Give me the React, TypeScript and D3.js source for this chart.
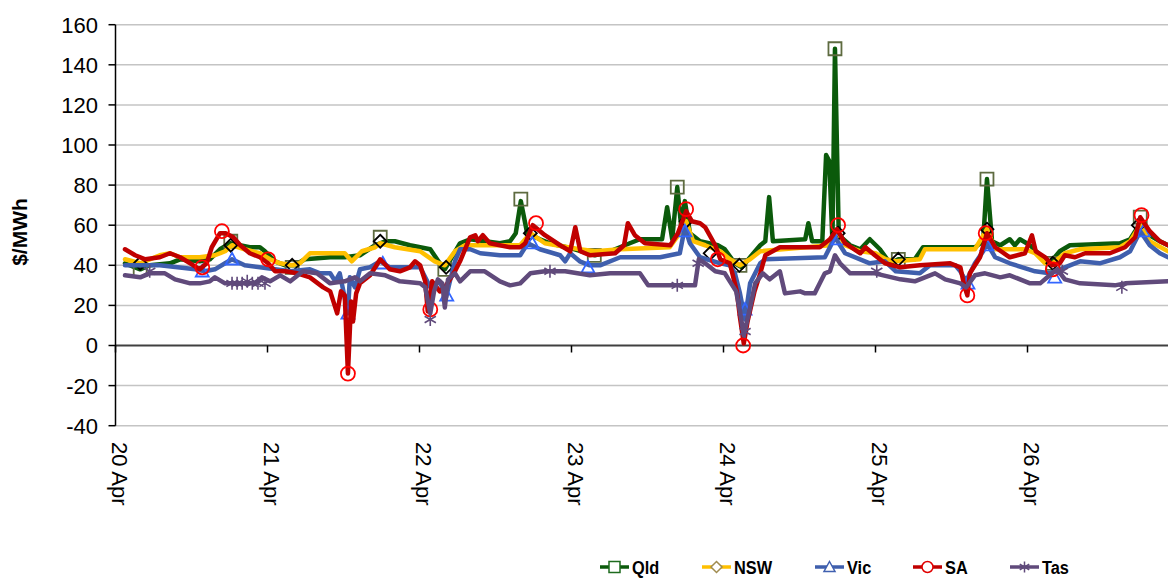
import React from 'react';
import * as d3 from 'd3';

type Pt = [number, number];

// hours since 20 Apr 00:00, $/MWh
const qld: Pt[] = [
  [1.5, 41], [3.9, 38], [5.4, 40], [8.6, 41], [10.2, 43], [13.3, 42], [14.9, 43], [16.5, 48], [18.1, 51],
  [21.2, 49], [22.8, 49], [23.6, 47], [25.2, 42], [26.8, 40], [28.3, 40], [29.9, 43], [33.9, 44], [36.2, 44],
  [38.6, 45], [41.0, 50], [42.6, 52], [44.1, 52], [46.5, 50], [49.7, 48], [51.2, 41], [52.0, 38], [54.4, 51],
  [56.0, 53], [60.7, 51], [62.3, 52], [63.2, 56], [64.0, 72], [65.0, 56], [67.0, 53], [68.6, 51], [72.5, 48],
  [75.7, 45], [78.1, 47], [81.2, 51], [82.8, 53], [86.3, 53], [87.1, 69], [87.9, 53], [88.7, 79], [89.3, 60],
  [89.9, 72], [90.7, 56], [92.3, 52], [95.1, 50], [96.2, 48], [97.8, 41], [98.9, 39], [100.2, 44], [101.8, 50],
  [102.6, 52], [103.2, 74], [103.8, 52], [108.9, 53], [109.4, 61], [110.0, 52], [111.6, 52], [112.2, 95],
  [112.7, 92], [113.2, 52], [113.6, 148], [114.2, 55], [116.0, 50], [117.6, 48], [119.1, 53], [120.7, 48],
  [122.3, 41], [123.6, 43], [126.2, 43], [127.5, 49], [135.7, 49], [137.0, 52], [137.6, 83], [138.4, 52],
  [139.7, 50], [141.2, 53], [142.0, 50], [142.8, 53], [144.4, 50], [146.0, 45], [147.5, 41], [149.1, 47],
  [150.7, 50], [158.6, 51], [160.2, 53], [161.8, 61], [163.3, 55], [164.9, 52], [166.2, 50],
];

const nsw: Pt[] = [
  [1.5, 43], [3.9, 41], [7.0, 45], [8.6, 46], [10.2, 44], [13.3, 44], [15.7, 45], [17.3, 47], [18.4, 50],
  [20.4, 48], [22.8, 46], [24.4, 43], [26.0, 41], [27.9, 40], [29.1, 41], [30.7, 46], [33.9, 46], [36.2, 46],
  [37.3, 42], [38.9, 47], [41.0, 49], [41.8, 51], [44.1, 49], [48.1, 47], [50.4, 42], [52.0, 40], [53.6, 47],
  [55.2, 50], [63.9, 50], [65.5, 56], [67.8, 51], [73.3, 48], [75.7, 47], [79.7, 48], [87.5, 49], [89.1, 56],
  [90.1, 62], [91.2, 52], [93.1, 50], [95.5, 47], [97.0, 43], [98.6, 40], [100.2, 43], [101.8, 47], [112.8, 50],
  [114.0, 57], [115.2, 50], [117.6, 47], [120.0, 46], [121.6, 43], [123.2, 42], [127.0, 43], [127.8, 48],
  [135.7, 48], [137.6, 58], [138.9, 48], [143.6, 48], [145.2, 46], [146.8, 41], [148.0, 41], [149.9, 46],
  [152.3, 48], [158.6, 49], [160.2, 52], [161.8, 60], [163.3, 52], [166.2, 47],
];

const vic: Pt[] = [
  [1.5, 40], [7.0, 40], [12.6, 38], [14.1, 37], [15.7, 38], [17.3, 41], [18.4, 43], [20.4, 40], [25.2, 38],
  [27.6, 37], [30.7, 38], [32.3, 36], [33.9, 36], [34.7, 32], [35.4, 36], [36.7, 16], [37.0, 34], [37.8, 29],
  [38.6, 38], [40.2, 39], [41.8, 42], [43.3, 39], [48.1, 39], [48.9, 34], [49.7, 29], [51.2, 32], [52.2, 24],
  [52.8, 32], [53.6, 42], [54.4, 48], [56.0, 48], [57.6, 46], [60.7, 45], [63.9, 45], [65.1, 51], [67.0, 48],
  [70.2, 45], [71.0, 42], [71.8, 46], [73.3, 42], [74.9, 40], [76.5, 40], [79.7, 44], [86.0, 44], [89.1, 46],
  [89.9, 59], [90.7, 51], [92.3, 44], [95.5, 41], [97.0, 40], [97.8, 36], [98.6, 26], [99.4, 13], [100.2, 31],
  [101.8, 41], [102.6, 43], [112.0, 44], [113.6, 54], [115.2, 46], [119.1, 41], [121.5, 42], [123.2, 37],
  [127.0, 36], [128.6, 40], [132.6, 40], [133.4, 37], [134.3, 32], [135.7, 41], [137.0, 47], [137.6, 51],
  [138.9, 44], [141.2, 41], [145.2, 37], [147.5, 36], [149.1, 38], [152.3, 42], [155.4, 41], [158.6, 44],
  [160.2, 47], [161.8, 57], [163.3, 50], [164.9, 46], [166.2, 44],
];

const sa: Pt[] = [
  [1.5, 48], [3.1, 45], [4.7, 43], [7.0, 44], [8.6, 46], [10.2, 44], [11.8, 41], [13.3, 38], [14.4, 41],
  [15.2, 49], [16.5, 56], [17.4, 56], [18.6, 54], [19.7, 50], [21.2, 46], [22.8, 44], [24.1, 41], [25.2, 37],
  [26.8, 37], [28.7, 36], [30.7, 34], [32.8, 29], [33.9, 27], [35.0, 16], [35.6, 27], [36.2, 25], [36.7, -14],
  [37.2, 22], [37.5, 12], [38.0, 26], [38.6, 31], [40.2, 35], [41.8, 43], [43.3, 38], [44.9, 37], [46.5, 39],
  [47.3, 42], [48.1, 40], [48.9, 32], [49.3, 17], [50.0, 32], [51.2, 27], [52.0, 29], [53.6, 37], [54.4, 42],
  [56.0, 54], [56.8, 55], [57.2, 52], [58.0, 55], [59.1, 51], [62.3, 49], [63.9, 49], [64.7, 51], [65.9, 60],
  [67.8, 55], [70.2, 50], [71.8, 47], [72.6, 59], [73.4, 47], [74.9, 45], [78.9, 46], [80.3, 50], [80.9, 61],
  [82.0, 55], [83.6, 51], [87.6, 50], [88.8, 56], [90.1, 67], [91.0, 62], [92.3, 61], [93.1, 59], [94.7, 50],
  [95.5, 43], [97.0, 41], [98.1, 27], [98.6, 14], [99.2, 1], [99.8, 12], [100.9, 27], [101.8, 36], [102.6, 45],
  [104.9, 49], [111.2, 49], [112.8, 53], [113.9, 58], [115.2, 51], [117.6, 46], [118.4, 49], [119.9, 45],
  [121.5, 41], [123.9, 39], [127.0, 40], [131.8, 41], [133.4, 39], [134.0, 30], [134.5, 25], [134.9, 36],
  [136.5, 44], [137.6, 56], [138.9, 49], [141.2, 44], [143.6, 46], [144.7, 55], [145.3, 47], [146.8, 44],
  [147.9, 40], [149.1, 41], [149.9, 45], [151.5, 44], [153.1, 46], [157.0, 46], [159.4, 49], [161.0, 54],
  [161.8, 64], [163.3, 57], [164.9, 52], [166.2, 50],
];

const tas: Pt[] = [
  [1.5, 35], [3.9, 34], [5.4, 36], [7.8, 36], [9.4, 33], [11.8, 31], [13.3, 31], [14.9, 32], [15.7, 34],
  [17.3, 31], [22.0, 31], [23.1, 34], [24.4, 32], [26.0, 35], [27.6, 32], [29.6, 37], [31.8, 36], [33.9, 31],
  [36.2, 32], [37.8, 34], [38.6, 32], [40.2, 36], [42.6, 35], [44.9, 32], [48.1, 31], [48.9, 29], [49.7, 16],
  [50.3, 27], [50.9, 33], [51.6, 31], [52.0, 19], [52.5, 33], [53.6, 36], [54.4, 32], [56.0, 37], [58.3, 37],
  [60.7, 32], [62.3, 30], [63.9, 31], [65.5, 36], [67.8, 37], [71.0, 37], [74.9, 35], [78.1, 36], [82.8, 36],
  [84.1, 30], [91.5, 30], [92.1, 43], [93.1, 41], [94.7, 37], [96.2, 36], [97.0, 32], [98.0, 27], [98.6, 17],
  [99.2, 5], [100.2, 19], [101.0, 31], [102.2, 36], [103.3, 33], [104.9, 37], [105.7, 26], [108.1, 27],
  [108.9, 26], [110.4, 26], [111.2, 31], [112.0, 36], [112.8, 37], [113.6, 45], [114.4, 41], [116.0, 36],
  [119.9, 36], [123.9, 33], [126.2, 32], [129.4, 36], [131.0, 33], [133.4, 31], [134.3, 29], [135.7, 35],
  [137.3, 36], [139.7, 34], [141.2, 35], [144.4, 31], [146.0, 31], [147.5, 35], [148.7, 38], [149.9, 33],
  [152.3, 31], [157.8, 30], [159.4, 31], [166.2, 32],
];

const qldMarkers: Pt[] = [
  [3.9, 38], [18.2, 52], [27.9, 39], [41.8, 54], [52.0, 38], [64.0, 73], [75.6, 45], [88.7, 79],
  [98.6, 40], [113.6, 148], [123.6, 43], [137.6, 83], [148.0, 41], [161.8, 64],
];
const nswMarkers: Pt[] = [
  [3.9, 41], [18.2, 50], [27.9, 40], [41.8, 52], [52.2, 39], [65.5, 56], [90.1, 62], [93.9, 46],
  [98.5, 40], [114.1, 56], [123.6, 43], [137.6, 58], [148.0, 41], [161.5, 60],
];
const vicMarkers: Pt[] = [
  [13.7, 37], [18.4, 43], [36.7, 16], [42.2, 41], [52.3, 25], [65.8, 51], [74.6, 39], [89.9, 57],
  [99.4, 18], [114.1, 53], [134.6, 31], [137.6, 50], [148.3, 34], [162.3, 57],
];
const saMarkers: Pt[] = [
  [13.7, 39], [16.8, 57], [24.1, 43], [36.7, -14], [49.7, 18], [66.4, 61], [90.1, 68], [95.1, 43],
  [99.1, 0], [114.1, 60], [134.5, 25], [137.4, 56], [148.0, 38], [162.0, 65],
];
const tasMarkers: Pt[] = [
  [5.4, 37], [18.4, 31], [19.2, 31], [20.0, 31], [20.8, 32], [21.6, 31], [22.5, 31], [23.6, 31],
  [49.7, 13], [68.6, 37], [88.7, 30], [92.0, 41], [99.4, 7], [120.2, 37], [149.5, 37], [158.9, 29],
];

const dayLabels = ['20 Apr', '21 Apr', '22 Apr', '23 Apr', '24 Apr', '25 Apr', '26 Apr'];
const yTicks = [-40, -20, 0, 20, 40, 60, 80, 100, 120, 140, 160];

type Shape = 'square' | 'diamond' | 'triangle' | 'circle' | 'star';

const series = [
  { name: 'Qld', data: qld, markers: qldMarkers, color: '#0b5a0b', mark: '#5e6b40', shape: 'square' as Shape },
  { name: 'NSW', data: nsw, markers: nswMarkers, color: '#ffc000', mark: '#000000', shape: 'diamond' as Shape },
  { name: 'Vic', data: vic, markers: vicMarkers, color: '#3f5fad', mark: '#3366ff', shape: 'triangle' as Shape },
  { name: 'SA', data: sa, markers: saMarkers, color: '#c00000', mark: '#ff0000', shape: 'circle' as Shape },
  { name: 'Tas', data: tas, markers: tasMarkers, color: '#604a7b', mark: '#604a7b', shape: 'star' as Shape },
];

const legendMark: Record<string, string> = {
  Qld: '#1e6b1e', NSW: '#a08c50', Vic: '#4060b0', SA: '#e00000', Tas: '#604a7b',
};

function markerPath(shape: Shape, cx: number, cy: number, s: number) {
  const h = s / 2;
  switch (shape) {
    case 'square':
      return `M${cx - h},${cy - h}h${s}v${s}h${-s}Z`;
    case 'diamond':
      return `M${cx},${cy - h}L${cx + h},${cy}L${cx},${cy + h}L${cx - h},${cy}Z`;
    case 'triangle':
      return `M${cx},${cy - h}L${cx + h},${cy + h * 0.8}L${cx - h},${cy + h * 0.8}Z`;
    case 'circle':
      return `M${cx - h},${cy}a${h},${h} 0 1,0 ${s},0a${h},${h} 0 1,0 ${-s},0`;
    case 'star': {
      let p = '';
      for (let i = 0; i < 3; i++) {
        const a = (Math.PI / 3) * i + Math.PI / 2;
        const dx = Math.cos(a) * h;
        const dy = Math.sin(a) * h;
        p += `M${cx - dx},${cy - dy}L${cx + dx},${cy + dy}`;
      }
      return p;
    }
  }
}

export default function App() {
  const width = 1168;
  const height = 578;
  const left = 115.5;

  const x = d3.scaleLinear().domain([0, 168]).range([left, left + 168 * (152 / 24)]);
  const y = d3.scaleLinear().domain([-40, 160]).range([425.7, 24.7]);

  const line = d3
    .line<Pt>()
    .x((d) => x(d[0]))
    .y((d) => y(d[1]));

  const font = "'Liberation Sans', Arial, sans-serif";
  const legendX = [600, 702, 815, 913, 1010];
  const legendY = 567;

  return (
    <svg
      width={width}
      height={height}
      style={{ position: 'absolute', left: 0, top: 0, background: '#fff' }}
      fontFamily={font}
    >
      {/* grid */}
      {yTicks.map((t) => (
        <line
          key={'g' + t}
          x1={left}
          x2={width}
          y1={y(t)}
          y2={y(t)}
          stroke={t === 0 ? '#404040' : '#c4c4c4'}
          strokeWidth={t === 0 ? 2 : 1.5}
        />
      ))}
      {/* y axis */}
      <line x1={left} x2={left} y1={y(160)} y2={y(-40)} stroke="#000" strokeWidth={1.5} />
      {yTicks.map((t) => (
        <g key={'t' + t}>
          <line x1={left - 7} x2={left} y1={y(t)} y2={y(t)} stroke="#000" strokeWidth={1.5} />
          <text x={98} y={y(t)} dy="0.36em" textAnchor="end" fontSize={22} fill="#000">
            {t}
          </text>
        </g>
      ))}
      <text
        transform={`translate(27, 232) rotate(-90)`}
        textAnchor="middle"
        fontSize={21}
        fontWeight="bold"
      >
        $/MWh
      </text>
      {/* x ticks on zero line */}
      {dayLabels.map((d, i) => (
        <g key={d}>
          <line x1={x(i * 24)} x2={x(i * 24)} y1={y(0)} y2={y(0) + 7} stroke="#000" strokeWidth={1.5} />
          <text transform={`translate(${x(i * 24) - 3.5}, 442) rotate(90)`} fontSize={22} fill="#000">
            {d}
          </text>
        </g>
      ))}

      {/* series */}
      {series.map((s) => (
        <g key={s.name}>
          <path
            d={line(s.data) || ''}
            fill="none"
            stroke={s.color}
            strokeWidth={4.5}
            strokeLinejoin="round"
            strokeLinecap="round"
          />
          {s.markers.map((m, i) => (
            <path
              key={i}
              d={markerPath(s.shape, x(m[0]), y(m[1]), s.shape === 'circle' ? 14 : 13)}
              fill="none"
              stroke={s.mark}
              strokeWidth={s.shape === 'star' ? 1.6 : 1.8}
            />
          ))}
        </g>
      ))}

      {/* legend */}
      {series.map((s, i) => (
        <g key={'l' + s.name}>
          <line x1={legendX[i]} x2={legendX[i] + 29} y1={legendY} y2={legendY} stroke={s.color} strokeWidth={3.5} />
          <path
            d={markerPath(s.shape, legendX[i] + 14.5, legendY, 11)}
            fill="#fff"
            stroke={legendMark[s.name]}
            strokeWidth={1.5}
          />
          <text
            transform={`translate(${legendX[i] + 32}, ${legendY + 6.5}) scale(0.86, 1)`}
            fontSize={19}
            fontWeight="bold"
          >
            {s.name}
          </text>
        </g>
      ))}
    </svg>
  );
}
